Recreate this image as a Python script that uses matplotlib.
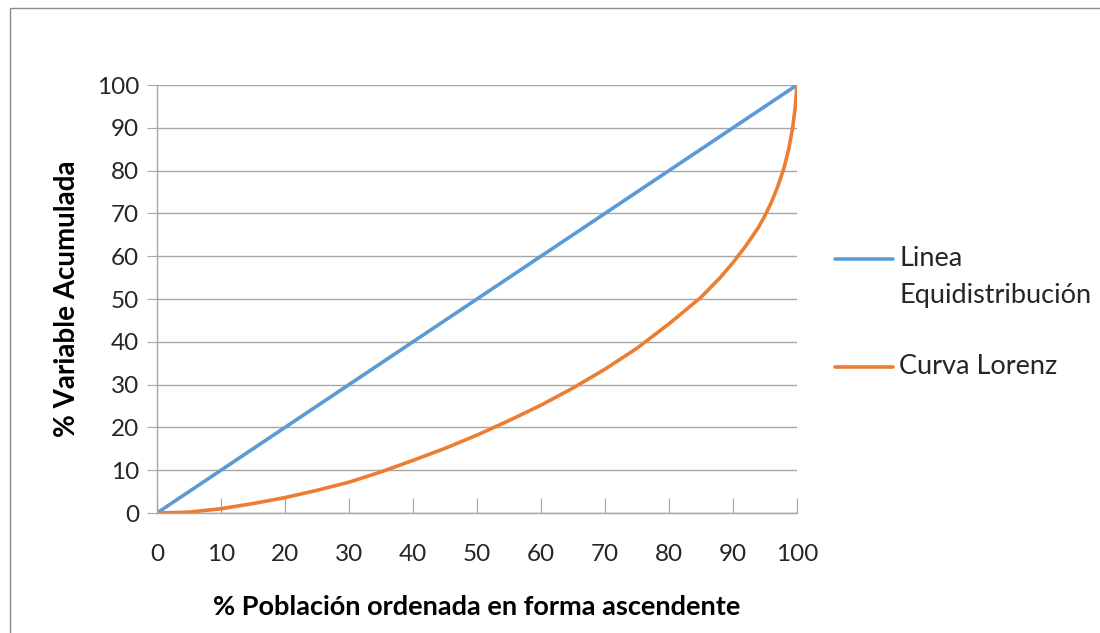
import matplotlib.pyplot as plt
from matplotlib.lines import Line2D
from matplotlib.patches import Rectangle

# % poblacion (x) y % variable acumulada (y)
poblacion = [0, 100]
equidistribucion = [0, 100]

lorenz_x = [0, 5, 10, 15, 20, 25, 30, 35, 40, 45, 50, 55, 60, 65, 70, 75,
            80, 85, 88, 90, 92, 94, 95, 96, 97, 98, 98.7, 99.3, 99.7, 100]
lorenz_y = [0, 0.2, 1.0, 2.2, 3.6, 5.3, 7.2, 9.6, 12.3, 15.1, 18.2, 21.6, 25.2,
            29.2, 33.6, 38.5, 44.2, 50.4, 55.0, 58.5, 62.4, 66.8, 69.5, 72.6,
            76.3, 80.8, 85.0, 89.8, 94.5, 100]

ticks = list(range(0, 101, 10))

azul = "#5B9BD5"
naranja = "#ED7D31"
gris = "#A6A6A6"
fuente = "Lato"

fig = plt.figure(figsize=(11, 6.33), dpi=100)
ax = fig.add_axes([157 / 1100, 1 - 513 / 633, 640 / 1100, 428 / 633])

ax.plot(poblacion, equidistribucion, color=azul, lw=2.6, solid_capstyle="round")
ax.plot(lorenz_x, lorenz_y, color=naranja, lw=2.6, solid_capstyle="round")

ax.set_xlim(0, 100)
ax.set_ylim(0, 100)
ax.set_xticks(ticks)
ax.set_yticks(ticks)
ax.grid(axis="y", color=gris, lw=1.0)
ax.set_axisbelow(True)

for s in ["top", "right"]:
    ax.spines[s].set_visible(False)
for s in ["left", "bottom"]:
    ax.spines[s].set_color(gris)
    ax.spines[s].set_linewidth(1.0)

ax.tick_params(axis="x", direction="in", length=11, color=gris, pad=22,
               labelsize=17.5, labelcolor="#262626")
ax.tick_params(axis="y", direction="out", length=7, color=gris, pad=6,
               labelsize=17.5, labelcolor="#262626")
for lab in ax.get_xticklabels() + ax.get_yticklabels():
    lab.set_fontfamily(fuente)

ax.set_xlabel("% Población ordenada en forma ascendente", fontsize=19.5,
              fontweight="bold", family=fuente, labelpad=22)
ax.set_ylabel("% Variable Acumulada", fontsize=20, fontweight="bold",
              family=fuente, labelpad=12)

# leyenda a la derecha
W, H = 1100, 633
fig.add_artist(Line2D([835 / W, 893 / W], [1 - 259 / H, 1 - 259 / H],
                      color=azul, lw=2.6, solid_capstyle="round"))
fig.add_artist(Line2D([835 / W, 893 / W], [1 - 367 / H, 1 - 367 / H],
                      color=naranja, lw=2.6, solid_capstyle="round"))
fig.text(899 / W, 1 - 259 / H, "Linea", fontsize=19.5, family=fuente,
         va="center", color="#262626")
fig.text(899 / W, 1 - 295 / H, "Equidistribución", fontsize=19.5, family=fuente,
         va="center", color="#262626")
fig.text(899 / W, 1 - 367 / H, "Curva Lorenz", fontsize=19.5, family=fuente,
         va="center", color="#262626")

# marco del grafico
fig.add_artist(Rectangle((10 / W, -0.2), 1.2, 1.2 - 8 / H, transform=fig.transFigure,
                         fill=False, edgecolor="#8C8C8C", lw=1.0, clip_on=False))

fig.savefig("out.png", dpi=100)
